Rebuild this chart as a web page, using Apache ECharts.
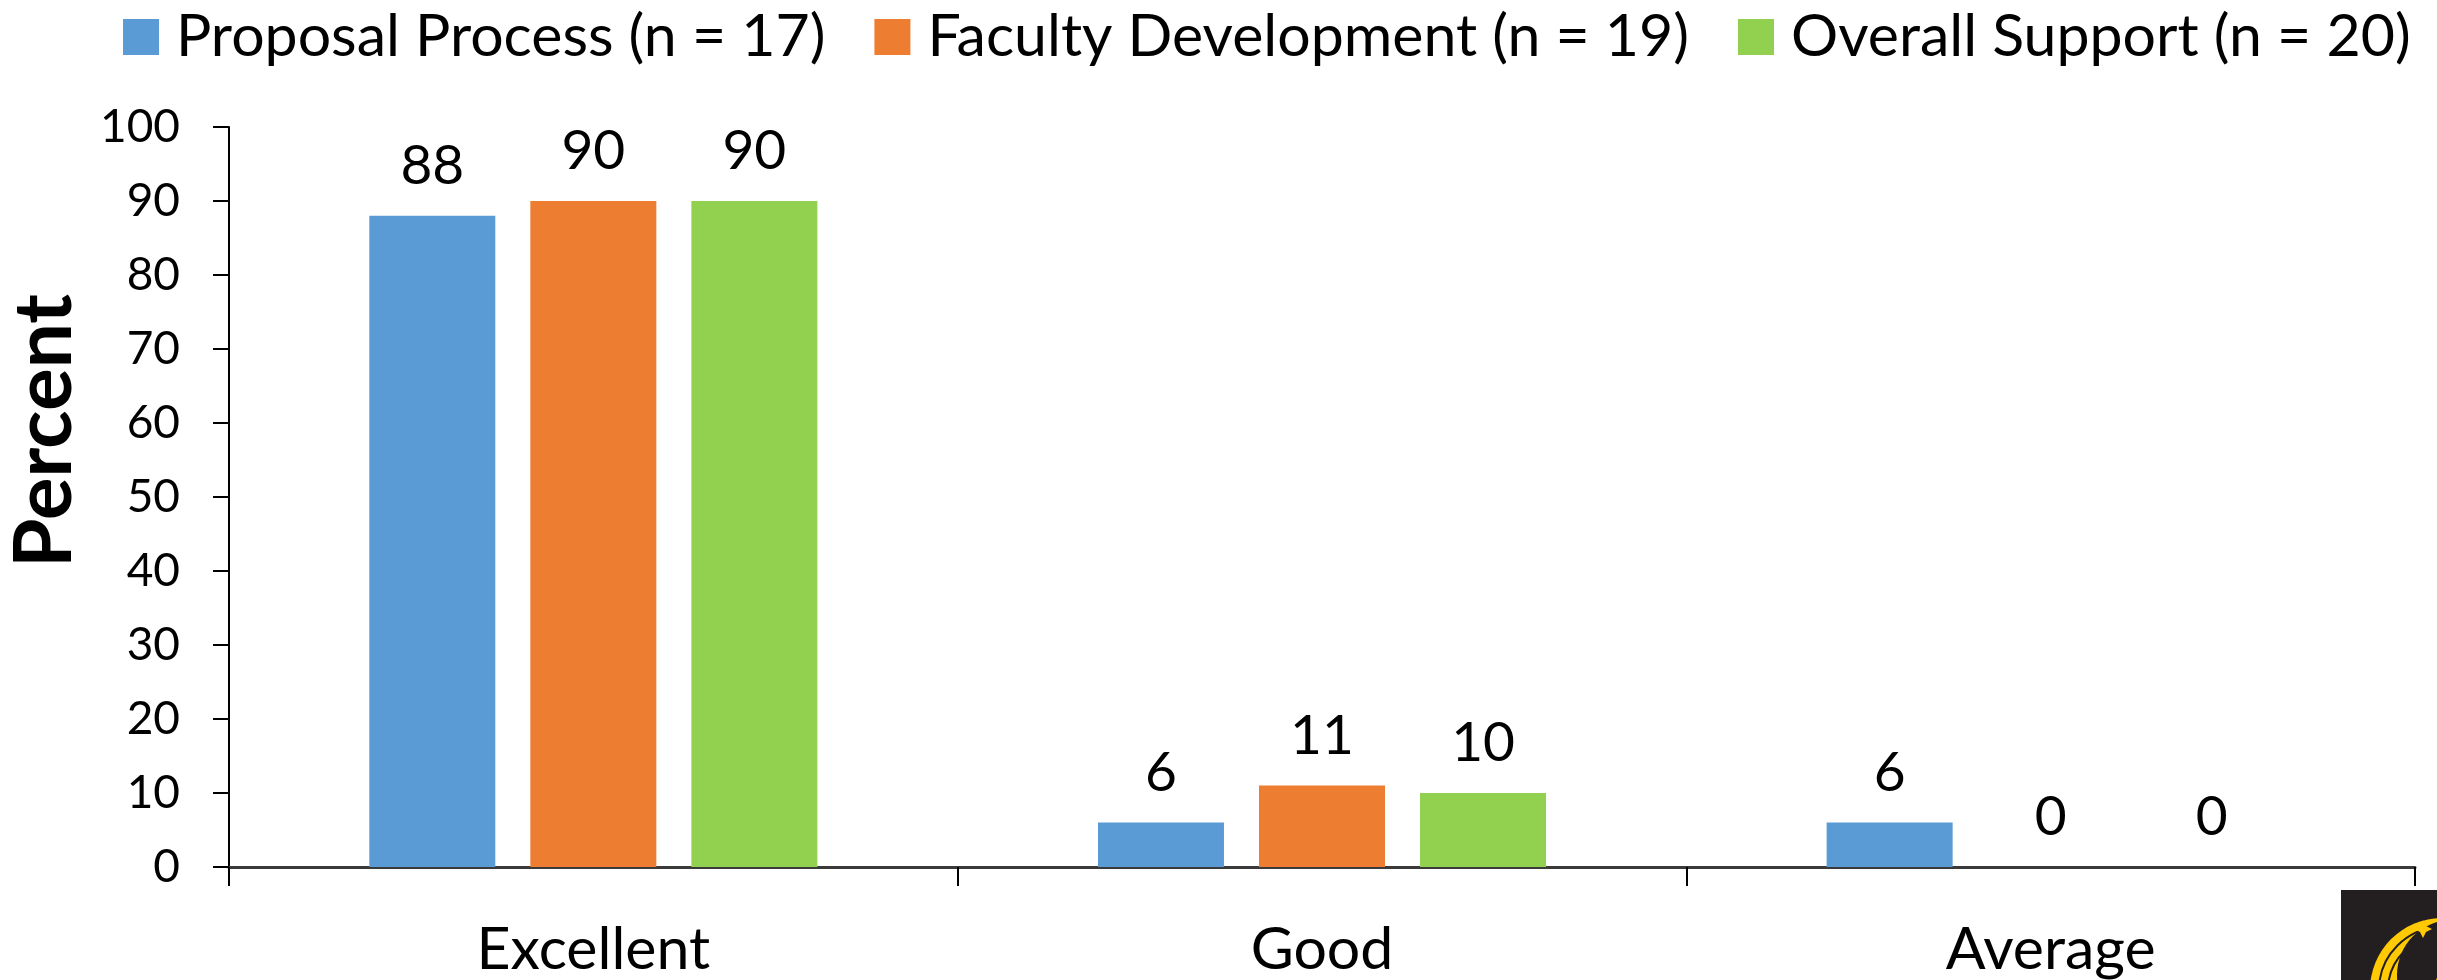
<!DOCTYPE html>
<html>
<head>
<meta charset="utf-8">
<script src="https://cdn.jsdelivr.net/npm/echarts@6/dist/echarts.min.js"></script>
<style>
html,body{margin:0;padding:0;background:#fff;}
#chart{width:2437px;height:980px;}
</style>
</head>
<body>
<div id="chart"></div>
<script>
var categories = ['Excellent', 'Good', 'Average'];
var seriesNames = ['Proposal Process (n = 17)', 'Faculty Development (n = 19)', 'Overall Support (n = 20)'];
var proposalProcess = [88, 6, 6];
var facultyDevelopment = [90, 11, 0];
var overallSupport = [90, 10, 0];
var colors = ['#5b9bd5', '#ed7d31', '#92d050'];
var yTicks = {min: 0, max: 100, interval: 10};
var axisTitle = 'Percent';

var FONT = 'Lato';
var chart = echarts.init(document.getElementById('chart'), null, {renderer: 'canvas'});

function makeSeries(name, data, color) {
  return {
    name: name,
    type: 'bar',
    data: data,
    barWidth: 126,
    barGap: '27.8%',
    itemStyle: {color: color},
    label: {
      show: true,
      position: 'top',
      distance: 22,
      color: '#000',
      fontFamily: FONT,
      fontSize: 55
    },
    emphasis: {disabled: true}
  };
}

var option = {
  animation: false,
  backgroundColor: '#fff',
  color: colors,
  textStyle: {fontFamily: FONT},
  legend: {
    left: 123,
    top: 6,
    padding: 0,
    itemWidth: 36,
    itemHeight: 36,
    itemGap: 49,
    icon: 'rect',
    textStyle: {
      fontFamily: FONT,
      fontSize: 59,
      color: '#000',
      lineHeight: 62,
      padding: [0, 0, 0, 12]
    },
    data: seriesNames
  },
  grid: {left: 229, right: 22, top: 127, bottom: 113, containLabel: false},
  xAxis: {
    type: 'category',
    data: categories,
    boundaryGap: true,
    axisLine: {lineStyle: {color: '#3a3a3a', width: 3}},
    axisTick: {show: true, length: 19, lineStyle: {color: '#000', width: 2}},
    axisLabel: {
      color: '#000',
      fontFamily: FONT,
      fontSize: 59,
      margin: 53
    }
  },
  yAxis: {
    type: 'value',
    min: yTicks.min,
    max: yTicks.max,
    interval: yTicks.interval,
    splitLine: {show: false},
    axisLine: {show: true, lineStyle: {color: '#000', width: 2}},
    axisTick: {show: true, length: 16, lineStyle: {color: '#000', width: 2}},
    axisLabel: {
      color: '#000',
      fontFamily: FONT,
      fontSize: 46,
      margin: 49
    }
  },
  series: [
    makeSeries(seriesNames[0], proposalProcess, colors[0]),
    makeSeries(seriesNames[1], facultyDevelopment, colors[1]),
    makeSeries(seriesNames[2], overallSupport, colors[2])
  ],
  graphic: [
    {
      type: 'text',
      x: 45,
      y: 431,
      rotation: Math.PI / 2,
      style: {
        text: axisTitle,
        fill: '#000',
        font: 'bold 80px Lato',
        textAlign: 'center',
        textVerticalAlign: 'middle'
      }
    },
    {
      type: 'group',
      children: [
        {type: 'rect', shape: {x: 2341, y: 890, width: 96, height: 90}, style: {fill: '#231f20'}},
        {type: 'circle', shape: {cx: 2442, cy: 990, r: 72}, style: {fill: '#ffc904'}},
        {type: 'circle', shape: {cx: 2442, cy: 990, r: 63}, style: {fill: 'none', stroke: '#231f20', lineWidth: 2}},
        {type: 'circle', shape: {cx: 2442, cy: 990, r: 54}, style: {fill: 'none', stroke: '#231f20', lineWidth: 2}},
        {type: 'circle', shape: {cx: 2452, cy: 975, r: 55}, style: {fill: '#231f20'}},
        {type: 'circle', shape: {cx: 2460, cy: 990, r: 26}, style: {fill: '#ffc904'}},
        {type: 'polygon', shape: {points: [[2423, 920], [2426, 926], [2432, 929], [2426, 932], [2423, 938], [2420, 932], [2414, 929], [2420, 926]]}, style: {fill: '#ffc904'}}
      ]
    }
  ]
};
chart.setOption(option);
</script>
</body>
</html>
